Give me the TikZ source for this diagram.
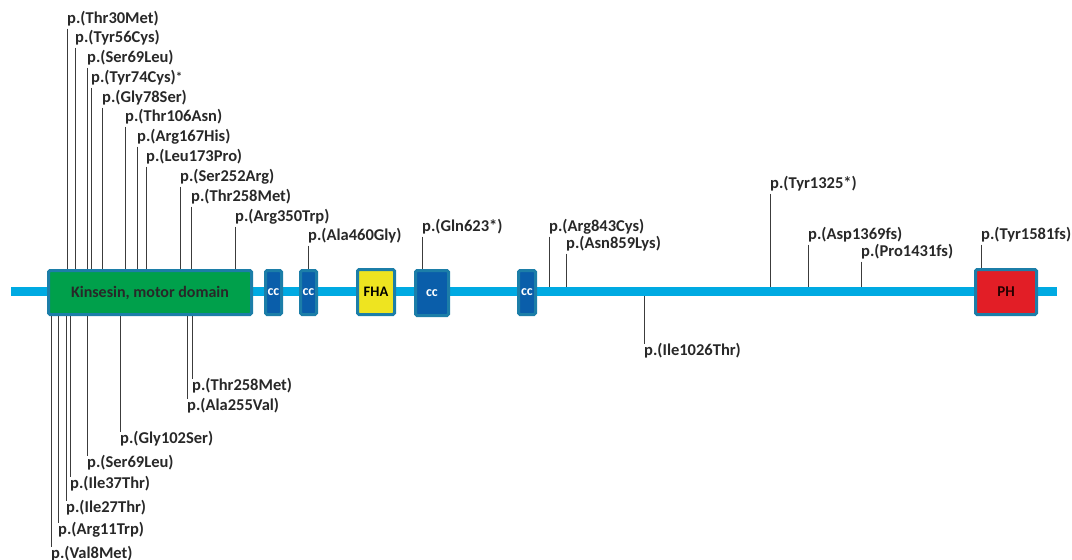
\documentclass[tikz,border=0pt]{standalone}
\usepackage{fontspec}
\setmainfont{Carlito}
\definecolor{bbblue}{RGB}{0,170,226}
\definecolor{rimblue}{RGB}{28,126,168}
\definecolor{motorgreen}{RGB}{0,160,75}
\definecolor{ccblue}{RGB}{10,94,170}
\definecolor{fhayellow}{RGB}{238,228,32}
\definecolor{phred}{RGB}{226,30,38}
\definecolor{txtgray}{RGB}{40,40,40}
\definecolor{stemgray}{RGB}{60,60,60}

\begin{document}
\begin{tikzpicture}[x=1pt, y=-1pt, every node/.style={font=\bfseries}]
\tikzstyle{backbone} = [rectangle, fill=bbblue, minimum height=9pt, inner sep=0pt]
\tikzstyle{dombox} = [rectangle, rounded corners=1.5pt, draw=rimblue, line width=3pt,
minimum height=44pt, inner sep=0pt, text centered]
\tikzstyle{ccbox} = [dombox, fill=ccblue, text=white, font=\fontsize{14}{14}\selectfont\bfseries]
\tikzstyle{mut} = [anchor=base west, inner xsep=0pt, inner ysep=0pt, text height=11pt,
text depth=5.5pt, text=txtgray, font=\fontsize{16.5}{18}\selectfont\bfseries]
\tikzstyle{stem} = [draw=stemgray, line width=1pt]

\useasboundingbox (0,0) rectangle (1072,560);

% Protein
\node (bb) [backbone, minimum width=1046pt] at (534,291.5) {};
\node (kin) [dombox, fill=motorgreen, minimum width=203pt, text=txtgray,
font=\fontsize{16}{16}\selectfont\bfseries] at (150,292.5) {Kinsesin, motor domain};
\node (cca) [ccbox, minimum width=16pt] at (273.5,292.5) {cc};
\node (ccb) [ccbox, minimum width=16pt] at (308.5,292.5) {cc};
\node (fha) [dombox, fill=fhayellow, minimum width=37pt, minimum height=45pt, text=black,
font=\fontsize{14.5}{14.5}\selectfont\bfseries] at (376,292) {FHA};
\node (ccc) [ccbox, minimum width=33pt, minimum height=45pt] at (432,293) {cc};
\node (ccd) [ccbox, minimum width=17pt] at (527,292.5) {cc};
\node (ph) [dombox, fill=phred, minimum width=61pt, minimum height=45pt, text=black!85!red,
font=\fontsize{15}{15}\selectfont\bfseries] at (1006,292) {PH};

% Nodes above
\node (u30) [mut] at (67,23) {p.(Thr30Met)};
\node (u56) [mut] at (75,42) {p.(Tyr56Cys)};
\node (u69) [mut] at (87,62) {p.(Ser69Leu)};
\node (u74) [mut] at (91,82) {p.(Tyr74Cys)\raisebox{1pt}{\fontsize{13}{13}\selectfont*}};
\node (u78) [mut] at (102,102) {p.(Gly78Ser)};
\node (u106) [mut] at (125,121) {p.(Thr106Asn)};
\node (u167) [mut] at (137,141) {p.(Arg167His)};
\node (u173) [mut] at (146,161) {p.(Leu173Pro)};
\node (u252) [mut] at (180,181) {p.(Ser252Arg)};
\node (u258) [mut] at (191,201) {p.(Thr258Met)};
\node (u350) [mut] at (235,221) {p.(Arg350Trp)};
\node (u460) [mut] at (308,240) {p.(Ala460Gly)};
\node (u623) [mut] at (422,231) {p.(Gln623*)};
\node (u843) [mut] at (549,231) {p.(Arg843Cys)};
\node (u859) [mut] at (566,248) {p.(Asn859Lys)};
\node (u1325) [mut] at (770,188) {p.(Tyr1325*)};
\node (u1369) [mut] at (808,239) {p.(Asp1369fs)};
\node (u1431) [mut] at (861,256) {p.(Pro1431fs)};
\node (u1581) [mut] at (981,239) {p.(Tyr1581fs)};

% Nodes below
\node (d8) [mut] at (51,558) {p.(Val8Met)};
\node (d11) [mut] at (58,534) {p.(Arg11Trp)};
\node (d27) [mut] at (66,512) {p.(Ile27Thr)};
\node (d37) [mut] at (70,488) {p.(Ile37Thr)};
\node (d69) [mut] at (87,467) {p.(Ser69Leu)};
\node (d102) [mut] at (120,443) {p.(Gly102Ser)};
\node (d255) [mut] at (187,410) {p.(Ala255Val)};
\node (d258) [mut] at (192,390) {p.(Thr258Met)};
\node (d1026) [mut] at (644,355) {p.(Ile1026Thr)};

% Stems
\foreach \m in {u30,u56,u69,u74,u78,u106,u167,u173,u252,u258,u350}
  \draw [stem] (\m.south west) -- (\m.south west |- kin.north);
\draw [stem] (u460.south west) -- (u460.south west |- ccb.north);
\draw [stem] (u623.south west) -- (u623.south west |- ccc.north);
\foreach \m in {u843,u859,u1325,u1369,u1431}
  \draw [stem] (\m.south west) -- (\m.south west |- bb.north);
\draw [stem] (u1581.south west) -- (u1581.south west |- ph.north);
\foreach \m in {d8,d11,d27,d37,d69,d102,d255,d258}
  \draw [stem] (\m.north west) -- (\m.north west |- kin.south);
\draw [stem] (d1026.north west) -- (d1026.north west |- bb.south);
\end{tikzpicture}
\end{document}
